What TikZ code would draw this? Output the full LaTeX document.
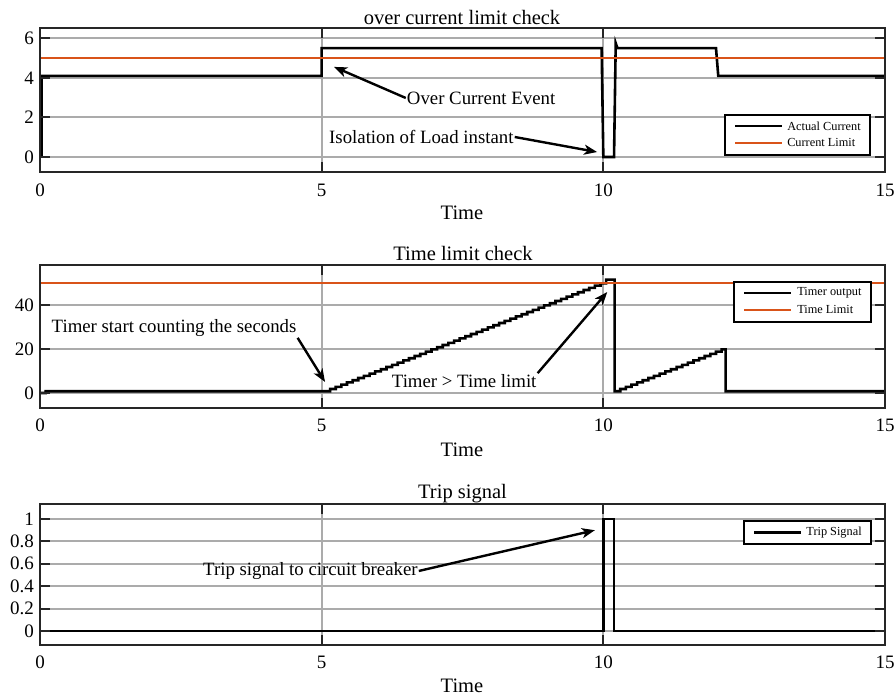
\documentclass[tikz,border=0pt]{standalone}
\usepackage{fontspec}
\setmainfont{Liberation Serif}
\usetikzlibrary{arrows.meta}
\definecolor{limitorange}{rgb}{0.85,0.325,0.098}
\definecolor{axisgray}{rgb}{0.15,0.15,0.15}

\begin{document}
\begin{tikzpicture}[x=1pt,y=1pt,
    axis box/.style={draw=axisgray,line width=2pt},
    grid line/.style={draw=black!33,line width=2pt},
    tick mark/.style={draw=axisgray,line width=2pt},
    signal/.style={draw=black,line width=2.6pt},
    limit line/.style={draw=limitorange,line width=2.4pt},
    tick label/.style={font=\fontsize{19}{19}\selectfont,inner sep=0pt},
    title label/.style={font=\fontsize{20.5}{20.5}\selectfont,inner sep=0pt,anchor=base},
    note/.style={font=\fontsize{18.8}{18.8}\selectfont,inner sep=1pt},
    note arrow/.style={-{Stealth[length=13pt,width=10pt,inset=3.5pt]},line width=2.4pt},
    legend box/.style={draw=black,line width=2.2pt,fill=white,inner sep=0pt},
    legend text/.style={font=\fontsize{12.3}{12.3}\selectfont,anchor=west,inner sep=0pt}]
\useasboundingbox (0,0) rectangle (895,700);

% over current limit check
\node[title label] (title1) at (462,675) {over current limit check};
\node[title label] (xlabel1) at (462,480) {Time};
\begin{scope}[shift={(40,543)},x=56.333pt,y=19.8pt]
  \foreach \v in {0,2,4,6} \draw[grid line] (0,\v) -- (15,\v);
  \foreach \t in {5,10} \draw[grid line] (\t,-0.75) -- (\t,6.5);
  \draw[signal] (0.03,0) -- (0.03,4.1) -- (5,4.1) -- (5,5.5) -- (9.97,5.5) -- (10,0) -- (10.19,0)
    -- (10.22,5.75) -- (10.25,5.5) -- (12,5.5) -- (12.04,4.1) -- (15,4.1);
  \draw[limit line] (0,5) -- (15,5);
  \draw[axis box] (0,-0.75) rectangle (15,6.5);
  \foreach \v in {0,2,4,6} {
    \draw[tick mark] (0,\v) -- ++(10pt,0pt);
    \draw[tick mark] (15,\v) -- ++(-10pt,0pt);
    \node[tick label,anchor=east] at ([xshift=-6pt]0,\v) {\v};
  }
  \foreach \t in {0,5,10,15} {
    \draw[tick mark] (\t,-0.75) -- ++(0pt,10pt);
    \draw[tick mark] (\t,6.5) -- ++(0pt,-10pt);
    \node[tick label,anchor=base] at ([yshift=-24.5pt]\t,-0.75) {\t};
  }
  % legend
  \node[legend box,minimum width=145pt,minimum height=40pt] (legcurrent) at (13.45,1.11) {};
  \draw[signal] ([shift={(11pt,-12pt)}]legcurrent.north west) -- ++(47pt,0pt);
  \node[legend text] at ([shift={(63pt,-12pt)}]legcurrent.north west) {Actual Current};
  \draw[limit line] ([shift={(11pt,-29pt)}]legcurrent.north west) -- ++(47pt,0pt);
  \node[legend text] at ([shift={(63pt,-29pt)}]legcurrent.north west) {Current Limit};
  % notes
  \node[note] (ocnote) at (7.83,2.98) {Over Current Event};
  \coordinate (ocpoint) at (5.22,4.55);
  \draw[note arrow] (ocnote.west) -- (ocpoint);
  \node[note] (isonote) at (6.77,1.01) {Isolation of Load instant};
  \coordinate (isopoint) at (9.89,0.25);
  \draw[note arrow] (isonote.east) -- (isopoint);
\end{scope}

% time limit check
\node[title label] (title2) at (463,439) {Time limit check};
\node[title label] (xlabel2) at (462,243) {Time};
\begin{scope}[shift={(40,307)},x=56.333pt,y=2.2pt]
  \foreach \v in {0,20,40} \draw[grid line] (0,\v) -- (15,\v);
  \foreach \t in {5,10} \draw[grid line] (\t,-6.8) -- (\t,58.2);
  \draw[signal] (0,0) -- (0.1,0) -- (0.1,0.8) -- (5.15,0.8)
    \foreach \k in {1,...,49} { -- ++(0pt,2.2pt) -- ++(0.1,0) }
    -- ++(0,1.7) -- (10.2,51.5) -- (10.2,0.8) -- (10.3,0.8)
    \foreach \k in {1,...,18} { -- ++(0pt,2.2pt) -- ++(0.1,0) }
    -- ++(0,1) -- (12.17,19.8) -- (12.17,0.8) -- (15,0.8);
  \draw[limit line] (0,50) -- (15,50);
  \draw[axis box] (0,-6.8) rectangle (15,58.2);
  \foreach \v in {0,20,40} {
    \draw[tick mark] (0,\v) -- ++(10pt,0pt);
    \draw[tick mark] (15,\v) -- ++(-10pt,0pt);
    \node[tick label,anchor=east] at ([xshift=-6pt]0,\v) {\v};
  }
  \foreach \t in {0,5,10,15} {
    \draw[tick mark] (\t,-6.8) -- ++(0pt,10pt);
    \draw[tick mark] (\t,58.2) -- ++(0pt,-10pt);
    \node[tick label,anchor=base] at ([yshift=-24pt]\t,-6.8) {\t};
  }
  % legend
  \node[legend box,minimum width=137pt,minimum height=40pt] (legtimer) at (13.54,41.36) {};
  \draw[signal] ([shift={(11pt,-12pt)}]legtimer.north west) -- ++(47pt,0pt);
  \node[legend text] at ([shift={(64pt,-12pt)}]legtimer.north west) {Timer output};
  \draw[limit line] ([shift={(11pt,-29pt)}]legtimer.north west) -- ++(47pt,0pt);
  \node[legend text] at ([shift={(64pt,-29pt)}]legtimer.north west) {Time Limit};
  % notes
  \node[note] (startnote) at (2.38,29.5) {Timer start counting the seconds};
  \coordinate (startpoint) at (5.06,5.0);
  \draw[note arrow] (startnote.south east) -- (startpoint);
  \node[note] (limitnote) at (7.53,5.45) {Timer > Time limit};
  \coordinate (limitpoint) at (10.07,45.9);
  \draw[note arrow] (limitnote.north east) -- (limitpoint);
\end{scope}

% trip signal
\node[title label] (title3) at (462.5,201) {Trip signal};
\node[title label] (xlabel3) at (462,7) {Time};
\begin{scope}[shift={(40,69)},x=56.333pt,y=112pt]
  \foreach \v in {0,0.2,0.4,0.6,0.8,1} \draw[grid line] (0,\v) -- (15,\v);
  \foreach \t in {5,10} \draw[grid line] (\t,-0.125) -- (\t,1.134);
  \draw[signal] (0,0) -- (10,0) -- (10,1) -- (10.19,1) -- (10.19,0) -- (15,0);
  \draw[axis box] (0,-0.125) rectangle (15,1.134);
  \foreach \v in {0,0.2,0.4,0.6,0.8,1} {
    \draw[tick mark] (0,\v) -- ++(10pt,0pt);
    \draw[tick mark] (15,\v) -- ++(-10pt,0pt);
    \node[tick label,anchor=east] at ([xshift=-6pt]0,\v) {\v};
  }
  \foreach \t in {0,5,10,15} {
    \draw[tick mark] (\t,-0.125) -- ++(0pt,10pt);
    \draw[tick mark] (\t,1.134) -- ++(0pt,-10pt);
    \node[tick label,anchor=base] at ([yshift=-24pt]\t,-0.125) {\t};
  }
  % legend
  \node[legend box,minimum width=127pt,minimum height=23pt] (legtrip) at (13.63,0.879) {};
  \draw[signal] ([shift={(11pt,0pt)}]legtrip.west) -- ++(47pt,0pt);
  \node[legend text] at ([shift={(63pt,0pt)}]legtrip.west) {Trip Signal};
  % notes
  \node[note] (tripnote) at (4.80,0.536) {Trip signal to circuit breaker};
  \coordinate (trippoint) at (9.85,0.90);
  \draw[note arrow] (tripnote.east) -- (trippoint);
\end{scope}
\end{tikzpicture}
\end{document}
